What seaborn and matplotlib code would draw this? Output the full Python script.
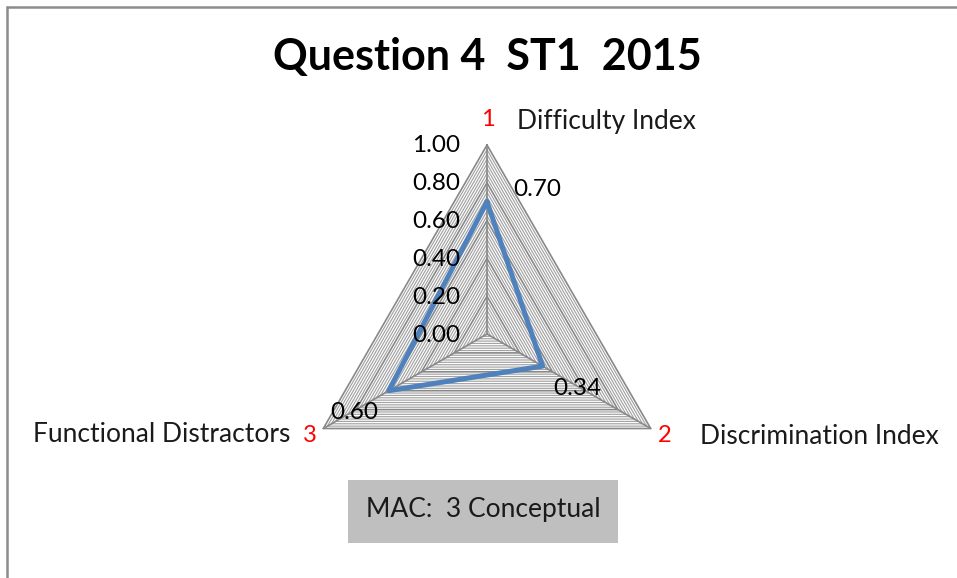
import numpy as np
import matplotlib
matplotlib.use("Agg")
import matplotlib.pyplot as plt
from matplotlib.lines import Line2D
from matplotlib.patches import Rectangle
import seaborn as sns
import pandas as pd

# Radar data
categories = ["Difficulty Index", "Discrimination Index", "Functional Distractors"]
category_numbers = ["1", "2", "3"]
values = [0.70, 0.34, 0.60]
value_labels = ["0.70", "0.34", "0.60"]
tick_values = [0.0, 0.2, 0.4, 0.6, 0.8, 1.0]
tick_labels = ["0.00", "0.20", "0.40", "0.60", "0.80", "1.00"]
title = "Question 4  ST1  2015"
note = "MAC:  3 Conceptual"

sns.set_theme(style="white")
plt.rcParams["font.family"] = ["Lato", "DejaVu Sans"]

W, H, DPI = 957, 578, 100
fig = plt.figure(figsize=(W / DPI, H / DPI), dpi=DPI)
fig.patch.set_facecolor("white")

# centre of the radar and its radius, in pixels
CX, CY, R = 487, 334, 189
ax = fig.add_axes([0, 0, 1, 1])
ax.set_xlim(-CX / R, (W - CX) / R)
ax.set_ylim(-(H - CY) / R, CY / R)
ax.axis("off")

n = len(categories)
angles = np.pi / 2 - 2 * np.pi * np.arange(n) / n


def polar_xy(r, ang):
    return r * np.cos(ang), r * np.sin(ang)


# minor and major polygon rings
minor_step = 0.025
for r in np.arange(minor_step, 1.0 + 1e-9, minor_step):
    xs, ys = polar_xy(np.append(np.full(n, r), r), np.append(angles, angles[0]))
    is_major = any(abs(r - t) < 1e-6 for t in tick_values)
    ax.plot(xs, ys, color="#888888" if is_major else "#a3a3a3",
            lw=1.2 if is_major else 0.85, zorder=1)

# spokes
for a in angles:
    xs, ys = polar_xy(np.array([0, 1.0]), np.array([a, a]))
    ax.plot(xs, ys, color="#888888", lw=1.2, zorder=1)

# data polygon
px, py = polar_xy(np.array(values + values[:1]), np.append(angles, angles[0]))
df = pd.DataFrame({"x": px, "y": py, "order": np.arange(len(px))})
sns.lineplot(data=df, x="x", y="y", sort=False, estimator=None,
             color="#4f81bd", lw=3.6, ax=ax, zorder=3)
ax.set_xlabel("")
ax.set_ylabel("")

NUM_FS = 17.5
CAT_FS = 19

# radial tick labels along the first spoke
for t, lab in zip(tick_values, tick_labels):
    x, y = polar_xy(t, angles[0])
    ax.text(x - 27 / R, y - 1 / R, lab, ha="right", va="center",
            fontsize=NUM_FS, color="black", zorder=4)

# value labels next to each point
offsets = [(50, 12), (35, -22), (-35, -22)]
for v, lab, a, (dx, dy) in zip(values, value_labels, angles, offsets):
    x, y = polar_xy(v, a)
    ax.text(x + dx / R, y + dy / R, lab, ha="center", va="center",
            fontsize=NUM_FS, color="black", zorder=4)

# category names with their numbers
ax.text((488 - CX) / R, (CY - 120) / R, category_numbers[0], color="red",
        ha="center", va="center", fontsize=17)
ax.text((517 - CX) / R, (CY - 122) / R, categories[0], color="#1a1a1a",
        ha="left", va="center", fontsize=CAT_FS)
ax.text((665 - CX) / R, (CY - 436) / R, category_numbers[1], color="red",
        ha="center", va="center", fontsize=17)
ax.text((700 - CX) / R, (CY - 437) / R, categories[1], color="#1a1a1a",
        ha="left", va="center", fontsize=CAT_FS)
ax.text((310 - CX) / R, (CY - 435) / R, category_numbers[2], color="red",
        ha="center", va="center", fontsize=17)
ax.text((290 - CX) / R, (CY - 435) / R, categories[2], color="#1a1a1a",
        ha="right", va="center", fontsize=CAT_FS)

# title
fig.text(487 / W, 1 - 57 / H, title, ha="center", va="center",
         fontsize=31, fontweight="bold", color="black")

# note box
fig.patches.append(Rectangle((348 / W, 1 - 543 / H), 270 / W, 63 / H,
                             transform=fig.transFigure, facecolor="#bfbfbf",
                             edgecolor="none", zorder=0))
fig.text(483 / W, 1 - 509 / H, note, ha="center", va="center", fontsize=19,
         color="#1a1a1a")

# outer frame (top and left edges)
fig.lines.append(Line2D([7 / W, 1], [1 - 7 / H, 1 - 7 / H],
                        transform=fig.transFigure, color="#8c8c8c", lw=1.8))
fig.lines.append(Line2D([7 / W, 7 / W], [0, 1 - 7 / H],
                        transform=fig.transFigure, color="#8c8c8c", lw=1.8))

fig.savefig("out.png", dpi=DPI, facecolor="white")
